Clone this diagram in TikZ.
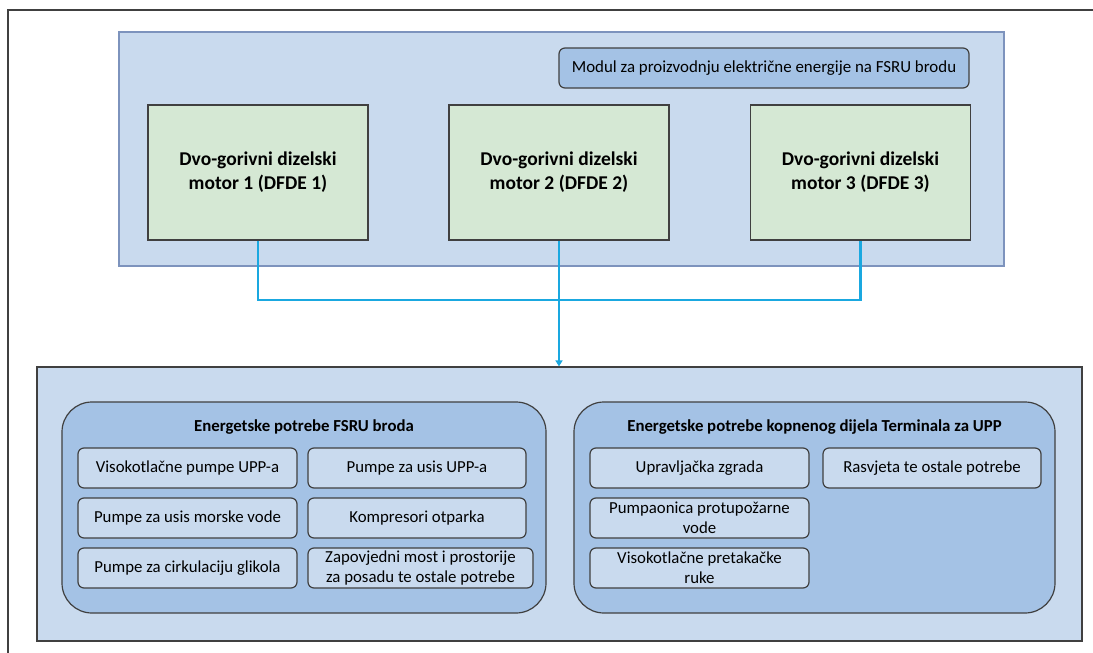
\documentclass[tikz,border=0pt]{standalone}
\usepackage{fontspec}
\setmainfont{Carlito}
\usetikzlibrary{arrows.meta}
\definecolor{panelblue}{HTML}{C9DAEE}
\definecolor{panelline}{HTML}{7D93BD}
\definecolor{groupblue}{HTML}{A4C2E5}
\definecolor{motorgreen}{HTML}{D5E8D4}
\definecolor{boxline}{HTML}{404040}
\definecolor{wireblue}{HTML}{1AA8E0}
\tikzset{
  panel/.style 2 args={draw=panelline, fill=panelblue, line width=1.2pt, minimum width=#1, minimum height=#2, inner sep=0pt},
  motor/.style={draw=boxline, fill=motorgreen, line width=1.2pt, minimum width=220, minimum height=135, align=center, font=\bfseries\fontsize{19.5}{24}\selectfont},
  modbox/.style={draw=boxline, fill=groupblue, line width=1.2pt, rounded corners=6, minimum width=410, minimum height=40, font=\fontsize{16.9}{20}\selectfont},
  group/.style={draw=boxline, fill=groupblue, line width=1.2pt, rounded corners=30, minimum width=#1, minimum height=211},
  title/.style={font=\bfseries\fontsize{16.8}{20}\selectfont},
  need/.style={draw=boxline, fill=panelblue, line width=1.2pt, rounded corners=6, minimum width=#1, minimum height=40, inner sep=1pt, align=center, font=\fontsize{16.8}{20}\selectfont},
  need/.default=219,
  wire/.style={draw=wireblue, line width=2.6pt},
  frame/.style={draw=boxline, line width=1.2pt}
}
\begin{document}
\begin{tikzpicture}[x=1pt, y=-1pt]
    \useasboundingbox (0,0) rectangle (1093,653);
    \fill[white] (0,0) rectangle (1093,653);
    \draw[frame] (8,660) -- (8,10) -- (1100,10);
    \node[panel={885}{234}] (ship) at (561.5,149) {};
    \node[modbox] (modul) at (764,68) {Modul za proizvodnju električne energije na FSRU brodu};
    \node[motor] (m1) at (258,172.5) {Dvo-gorivni dizelski\\motor 1 (DFDE 1)};
    \node[motor] (m2) at (559,172.5) {Dvo-gorivni dizelski\\motor 2 (DFDE 2)};
    \node[motor] (m3) at (860.5,172.5) {Dvo-gorivni dizelski\\motor 3 (DFDE 3)};
    \node[panel={1045}{274}, draw=boxline] (land) at (559.5,504) {};
    \node[group=484] (g1) at (304,507.5) {};
    \node[group=481] (g2) at (814.5,507.5) {};
    \node[title] (t1) at (304,427) {Energetske potrebe FSRU broda};
    \node[title] (t2) at (814.5,427) {Energetske potrebe kopnenog dijela Terminala za UPP};
    \node[need] (n1) at (187.5,468) {Visokotlačne pumpe UPP-a};
    \node[need=218] (n2) at (417,468) {Pumpe za usis UPP-a};
    \node[need] (n3) at (187.5,518) {Pumpe za usis morske vode};
    \node[need=218] (n4) at (417,518) {Kompresori otparka};
    \node[need] (n5) at (187.5,568) {Pumpe za cirkulaciju glikola};
    \node[need=225] (n6) at (420.5,568) {Zapovjedni most i prostorije\\za posadu te ostale potrebe};
    \node[need] (k1) at (699.5,468) {Upravljačka zgrada};
    \node[need=218] (k2) at (932,468) {Rasvjeta te ostale potrebe};
    \node[need] (k3) at (699.5,518) {Pumpaonica protupožarne\\vode};
    \node[need] (k4) at (699.5,568) {Visokotlačne pretakačke\\ruke};
    \coordinate (bus) at (559,300);
    \draw[wire] (m1.south) |- (bus) -| (m3.south);
    \draw[wire, -{Triangle[length=6pt,width=7pt]}] (m2.south) -- (land.north -| m2.south);
\end{tikzpicture}
\end{document}
